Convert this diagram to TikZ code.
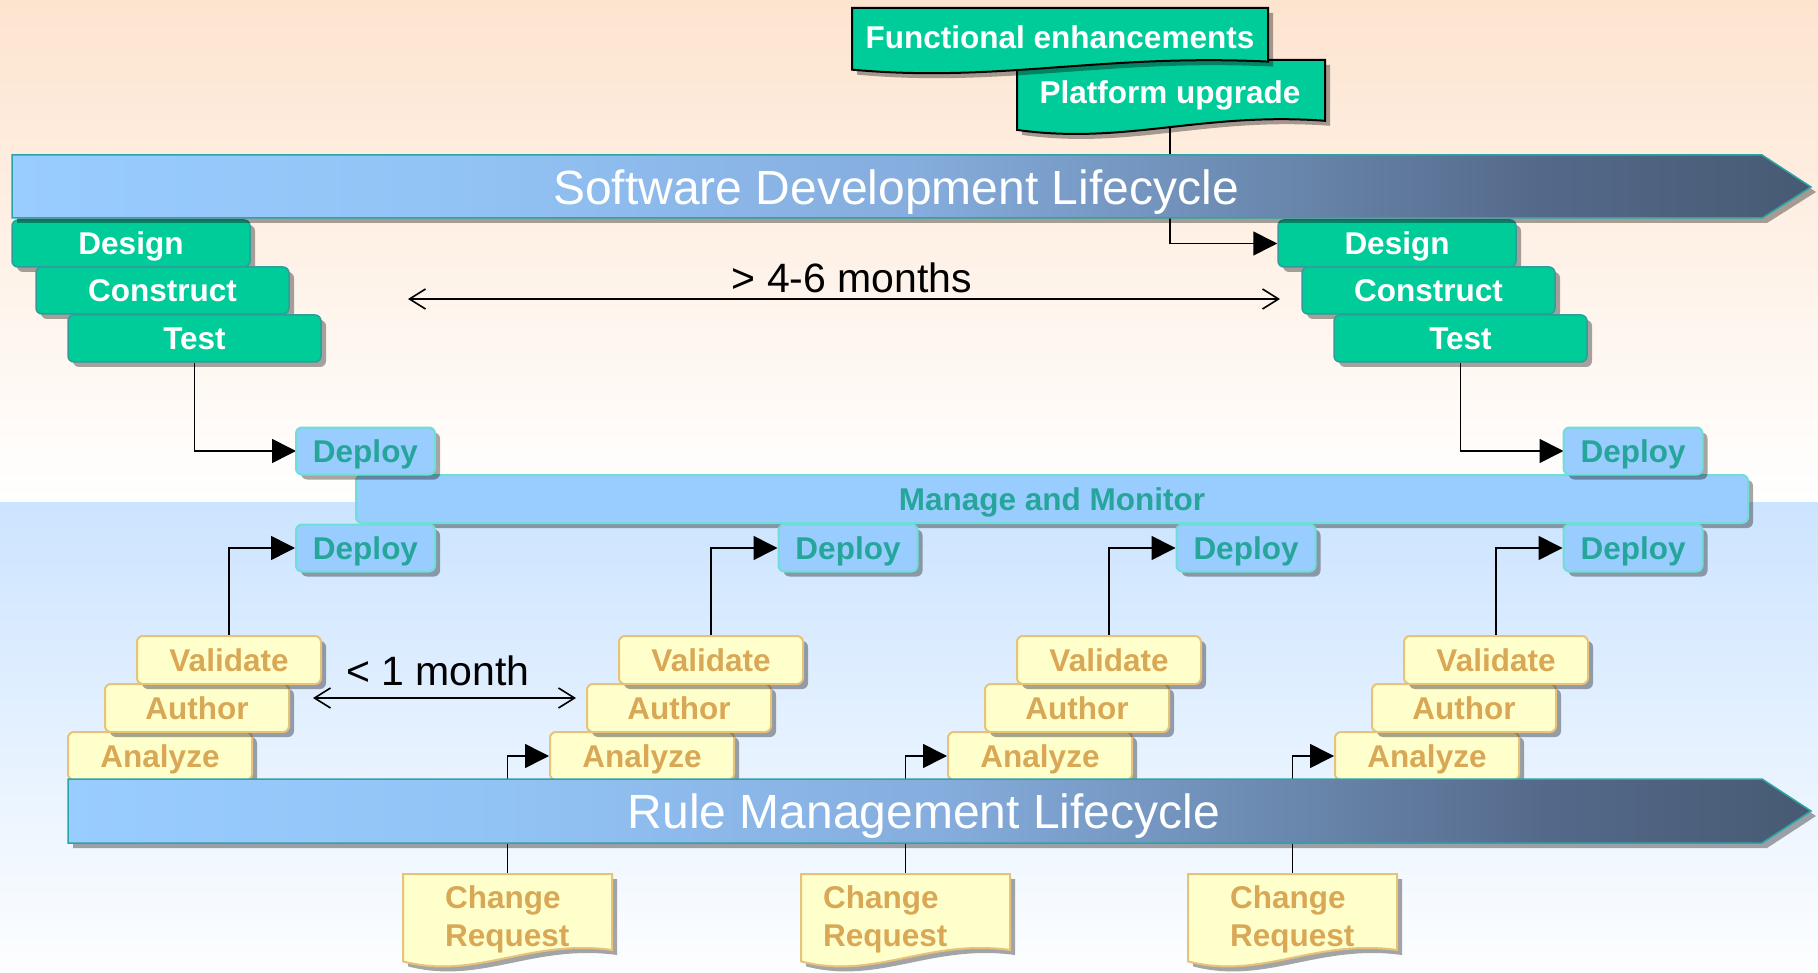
\documentclass[tikz,border=0pt]{standalone}
\usepackage{fontspec}
\setmainfont{Liberation Sans}
\usetikzlibrary{arrows.meta,shadows}
\definecolor{grn}{HTML}{00CC99}
\definecolor{grnb}{HTML}{2E9E9A}
\definecolor{dep}{HTML}{99CCFF}
\definecolor{depb}{HTML}{70DED6}
\definecolor{dept}{HTML}{26A69A}
\definecolor{yel}{HTML}{FFFFCC}
\definecolor{yelb}{HTML}{E6C27A}
\definecolor{yelt}{HTML}{D9A856}
\definecolor{barb}{HTML}{2AA5A5}
\definecolor{peach}{HTML}{FDE4CF}
\definecolor{sky}{HTML}{CCE4FF}
\pgfdeclarehorizontalshading{barshade}{100bp}{rgb(0bp)=(0.6,0.8,1); rgb(25bp)=(0.6,0.8,1); rgb(37.5bp)=(0.573,0.765,0.961); rgb(50bp)=(0.522,0.678,0.867); rgb(60bp)=(0.416,0.533,0.682); rgb(67.5bp)=(0.329,0.412,0.541); rgb(75bp)=(0.278,0.353,0.451); rgb(100bp)=(0.278,0.353,0.451)}
\newcommand{\mydoc}[5]{\path[#5] (#1,#2) -- ({#1+#3},#2) -- ({#1+#3},{#2+0.8*#4}) .. controls ({#1+0.6*#3},{#2+0.68*#4}) and ({#1+0.35*#3},{#2+1.12*#4}) .. (#1,{#2+0.92*#4}) -- cycle;}
\begin{document}
\begin{tikzpicture}[x=1pt,y=-1pt,
  lbl/.style={font=\fontsize{31.5}{37}\selectfont\bfseries, text height=22.5pt, text depth=0pt, inner sep=0pt},
  shadowed/.style={drop shadow={shadow xshift=5pt,shadow yshift=-5pt,fill=black,opacity=0.35}},
  greenbox/.style={lbl, shadowed, rectangle, rounded corners=6pt, fill=grn, draw=grnb, line width=1.5pt, text=white, minimum width=#1, minimum height=47pt},
  depbox/.style={lbl, shadowed, rectangle, rounded corners=6pt, fill=dep, draw=depb, line width=2pt, text=dept, minimum width=139pt, minimum height=47pt},
  ybox/.style={lbl, shadowed, rectangle, rounded corners=6pt, fill=yel, draw=yelb, line width=2pt, text=yelt, minimum width=184pt, minimum height=48pt},
  bartext/.style={font=\fontsize{48}{56}\selectfont, text=white, text height=34.4pt, text depth=0pt, inner sep=0pt},
  mtext/.style={font=\fontsize{41}{48}\selectfont, text=black, text height=29.4pt, text depth=0pt, inner sep=0pt},
  conn/.style={line width=1.6pt, -{Triangle[length=24pt,width=24pt]}},
  dbl/.style={line width=1.6pt, {Straight Barb[length=16pt,width=20pt]}-{Straight Barb[length=16pt,width=20pt]}},
  hold/.style={inner sep=0pt, minimum width=209pt, minimum height=92pt}
]
\useasboundingbox (0,0) rectangle (1818,973);
% background
\shade[top color=peach, bottom color=white] (0,0) rectangle (1818,502);
\shade[top color=sky, bottom color=white!96!sky] (0,502) rectangle (1818,973);

% invisible holders for document shapes
\node[hold] (cr1) at (507.5,920) {};
\node[hold] (cr2) at (905.5,920) {};
\node[hold] (cr3) at (1292.5,920) {};
\coordinate (pubot) at (1170,127);

% green process boxes
\node[greenbox=238pt] (d1) at (131,243.5) {Design};
\node[greenbox=253pt] (c1) at (162.5,290.5) {Construct};
\node[greenbox=253pt] (t1) at (194.5,338.5) {Test};
\node[greenbox=238pt] (d2) at (1397,243.5) {Design};
\node[greenbox=253pt] (c2) at (1428.5,290.5) {Construct};
\node[greenbox=253pt] (t2) at (1460.5,338.5) {Test};

\draw[conn] (pubot) |- (d2.west);
\draw[conn] (t1.south) |- (365.5-69.5,451);
\draw[conn] (t2.south) |- (1633-69.5,451);

% document shapes: platform upgrade then functional enhancements
\mydoc{1017}{60}{308}{76}{fill=black,opacity=0.35,shift={(5,5)}}
\mydoc{1017}{60}{308}{76}{fill=grn,draw=black,line width=2pt}
\mydoc{852}{8}{416}{67}{fill=black,opacity=0.35,shift={(5,5)}}
\mydoc{852}{8}{416}{67}{fill=grn,draw=black,line width=2pt}
\node[lbl,text=white] (fe) at (1060,37) {Functional enhancements};
\node[lbl,text=white] (pu) at (1170,92) {Platform upgrade};

% SDL bar
\fill[black,opacity=0.35,shift={(5,5)}] (12,155) -- (1762,155) -- (1811,187) -- (1762,218) -- (12,218) -- cycle;
\shade[shading=barshade,draw=barb,line width=1.5pt] (12,155) -- (1762,155) -- (1811,187) -- (1762,218) -- (12,218) -- cycle;
\node[bartext] (sdl) at (896,187) {Software Development Lifecycle};

% Manage and monitor
\node[depbox, minimum width=1392pt, minimum height=48pt] (mm) at (1052,499) {Manage and Monitor};
\node[depbox] (du1) at (365.5,451) {Deploy};
\node[depbox] (du4) at (1633,451) {Deploy};
\node[depbox] (dl1) at (365.5,548) {Deploy};
\node[depbox] (dl2) at (848,548) {Deploy};
\node[depbox] (dl3) at (1246,548) {Deploy};
\node[depbox] (dl4) at (1633,548) {Deploy};

% yellow stacks
\foreach \o/\g in {0/1,482/2,880/3,1267/4}{
  \node[ybox] (an\g) at (160+\o,756) {Analyze};
  \node[ybox] (au\g) at (197+\o,708) {Author};
  \node[ybox] (va\g) at (229+\o,660) {Validate};
}
\foreach \g in {1,2,3,4}{
  \draw[conn] (va\g.north) |- (dl\g.west);
}
\draw[conn] (cr1.north) |- (an2.west);
\draw[conn] (cr2.north) |- (an3.west);
\draw[conn] (cr3.north) |- (an4.west);

% RML bar
\fill[black,opacity=0.35,shift={(5,5)}] (68,779) -- (1762,779) -- (1811,811) -- (1762,843) -- (68,843) -- cycle;
\shade[shading=barshade,draw=barb,line width=1.5pt] (68,779) -- (1762,779) -- (1811,811) -- (1762,843) -- (68,843) -- cycle;
\node[bartext] (rml) at (924,811) {Rule Management Lifecycle};

% change requests
\foreach \x/\g/\dx in {403/1/42,801/2/22,1188/3/42}{
  \mydoc{\x}{874}{209}{95}{fill=black,opacity=0.35,shift={(5,5)}}
  \mydoc{\x}{874}{209}{95}{fill=yel,draw=yelb,line width=2pt}
  \node[lbl,text=yelt,anchor=base west] (crA\g) at (\x+\dx,908) {Change};
  \node[lbl,text=yelt,anchor=base west] (crB\g) at (\x+\dx,946) {Request};
}

% durations
\coordinate (m1a) at (408,299);
\coordinate (m1b) at (1280,299);
\draw[dbl] (m1a) -- (m1b);
\node[mtext] (m1t) at (852,278) {> 4-6 months};
\coordinate (m2a) at (313,698);
\coordinate (m2b) at (576,698);
\draw[dbl] (m2a) -- (m2b);
\node[mtext] (m2t) at (438,671) {< 1 month};
\end{tikzpicture}
\end{document}
